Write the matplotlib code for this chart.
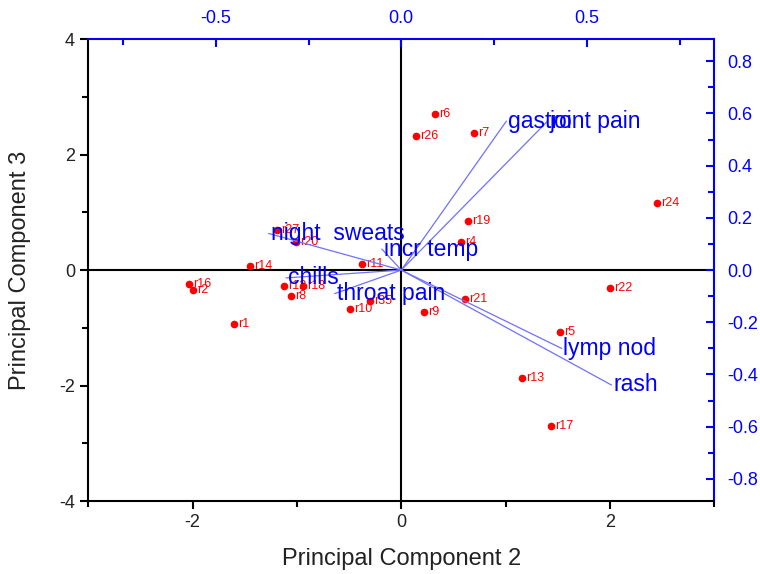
import matplotlib
matplotlib.use("Agg")
import matplotlib.pyplot as plt
from matplotlib.ticker import MultipleLocator

plt.rcParams["font.family"] = ["Liberation Sans", "DejaVu Sans"]
plt.rcParams["axes.unicode_minus"] = False

# scores (Principal Component 2 vs 3)
score_names = ["r6", "r26", "r7", "r24", "r19", "r4", "r20", "r27", "r14", "r11",
               "r16", "r2", "r12", "r18", "r8", "r1", "r10", "r35", "r9", "r21",
               "r22", "r5", "r13", "r17"]
score_x = [0.32, 0.14, 0.70, 2.45, 0.64, 0.57, -1.01, -1.19, -1.45, -0.38,
           -2.03, -2.00, -1.12, -0.94, -1.06, -1.60, -0.49, -0.30, 0.22, 0.61,
           2.00, 1.52, 1.16, 1.43]
score_y = [2.70, 2.32, 2.37, 1.16, 0.85, 0.49, 0.49, 0.70, 0.07, 0.10,
           -0.24, -0.35, -0.28, -0.28, -0.45, -0.93, -0.67, -0.54, -0.73, -0.50,
           -0.31, -1.07, -1.87, -2.70]

# loadings (top / right axes)
load_names = ["gastro", "joint pain", "night  sweats", "incr temp", "chills",
              "throat pain", "lymp nod", "rash"]
load_x = [0.283, 0.394, -0.357, -0.052, -0.31, -0.179, 0.432, 0.566]
load_y = [0.57, 0.57, 0.14, 0.08, -0.03, -0.09, -0.30, -0.44]

fig = plt.figure(figsize=(7.6, 5.74), dpi=100)
pos = [0.116, 0.127, 0.824, 0.805]
ax = fig.add_axes(pos)

ax.set_xlim(-3, 3)
ax.set_ylim(-4, 4)
ax.xaxis.set_major_locator(MultipleLocator(2))
ax.xaxis.set_minor_locator(MultipleLocator(1))
ax.yaxis.set_major_locator(MultipleLocator(2))
ax.yaxis.set_minor_locator(MultipleLocator(1))
ax.tick_params(which="major", length=6, width=1.5, labelsize=13, colors="black", labelcolor="#222222")
ax.tick_params(which="minor", length=4, width=1.5)
ax.set_xlabel("Principal Component 2", fontsize=17, color="#222222", labelpad=12)
ax.set_ylabel("Principal Component 3", fontsize=17, color="#222222", labelpad=20)
for s in ["left", "bottom"]:
    ax.spines[s].set_linewidth(1.5)
for s in ["top", "right"]:
    ax.spines[s].set_color("blue")
    ax.spines[s].set_linewidth(1.5)

ax.axhline(0, color="black", lw=1.5, zorder=1)
ax.axvline(0, color="black", lw=1.5, zorder=1)

ax.plot(score_x, score_y, "o", color="red", markersize=4.5, zorder=3)
for n, x, y in zip(score_names, score_x, score_y):
    ax.text(x + 0.04, y, n, color="red", fontsize=9, va="center", ha="left", zorder=3)

ax2 = fig.add_axes(pos, frameon=False)
ax2.set_xlim(-0.844, 0.844)
ax2.set_ylim(-0.885, 0.885)
ax2.xaxis.tick_top()
ax2.yaxis.tick_right()
ax2.xaxis.set_major_locator(MultipleLocator(0.5))
ax2.xaxis.set_minor_locator(MultipleLocator(0.25))
ax2.yaxis.set_major_locator(MultipleLocator(0.2))
ax2.yaxis.set_minor_locator(MultipleLocator(0.1))
ax2.xaxis.set_major_formatter(lambda v, p: f"{v:.1f}")
ax2.yaxis.set_major_formatter(lambda v, p: f"{v:.1f}")
ax2.tick_params(which="both", direction="in", colors="blue", width=1.5, labelsize=13)
ax2.tick_params(which="major", length=6)
ax2.tick_params(which="minor", length=4)
ax2.tick_params(axis="x", pad=9)
ax2.tick_params(axis="y", pad=9)

for n, x, y in zip(load_names, load_x, load_y):
    ax2.plot([0, x], [0, y], color="#7070ff", lw=0.9, zorder=2)
    ax2.text(x + 0.005, y, n, color="blue", fontsize=16.5, va="center", ha="left", zorder=4)

fig.savefig("out.png", dpi=100)
